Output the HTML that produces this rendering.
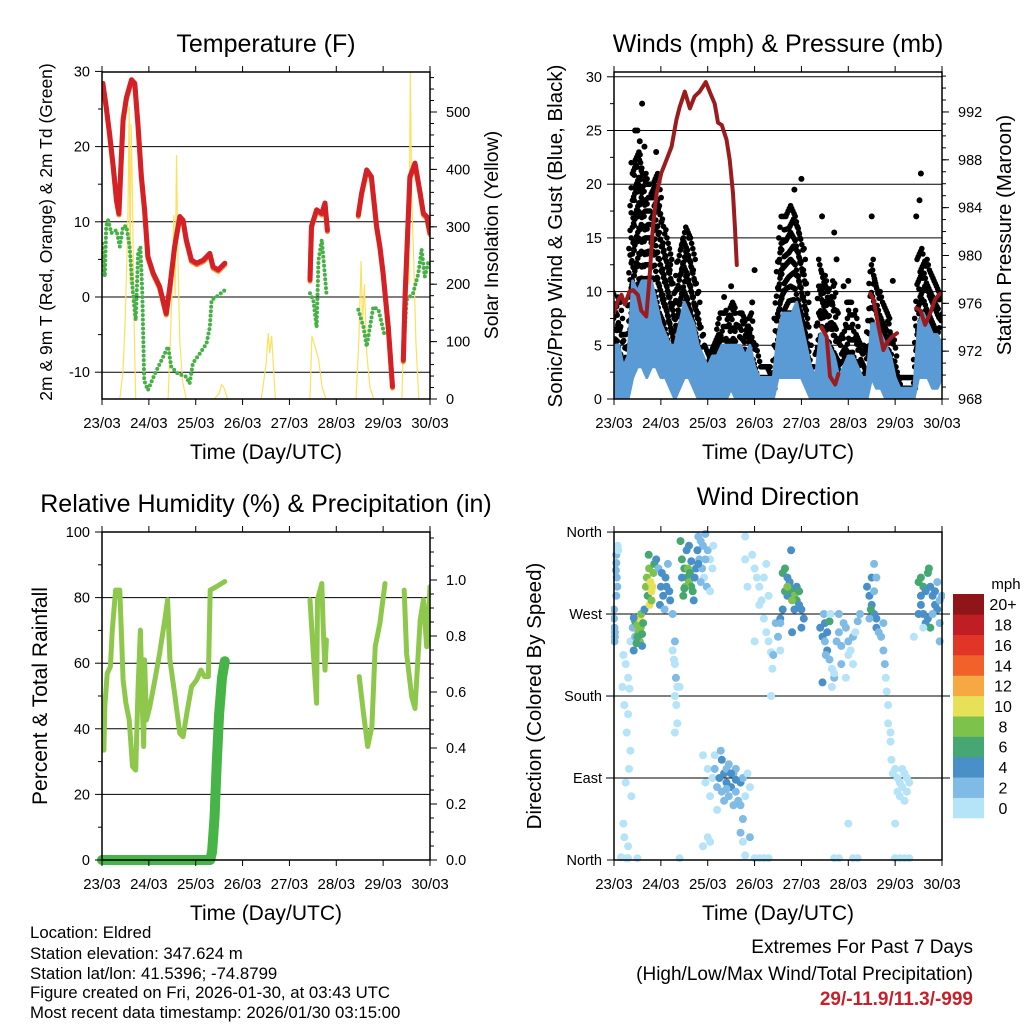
<!DOCTYPE html>
<html><head><meta charset="utf-8"><style>
html,body{margin:0;padding:0;background:#fff}
svg text{font-family:"Liberation Sans",Arial,sans-serif;fill:#000}
</style></head><body>
<svg id="c" width="1024" height="1024" viewBox="0 0 1024 1024" xmlns="http://www.w3.org/2000/svg">
<defs>
<clipPath id="cp1"><rect x="102" y="72" width="328" height="327"/></clipPath>
<clipPath id="cp2"><rect x="614" y="72" width="328" height="327"/></clipPath>
<clipPath id="cp3"><rect x="102" y="532" width="328" height="328"/></clipPath>
<clipPath id="cp4"><rect x="611" y="529" width="334" height="334"/></clipPath>
</defs>
<g id="g1"></g>
<g id="g2"></g>
<g id="g3"></g>
<g id="g4"></g>
<g id="txt">
<text x="30" y="938" font-size="16.8">Location: Eldred</text>
<text x="30" y="959" font-size="16.8">Station elevation: 347.624 m</text>
<text x="30" y="979" font-size="16.8">Station lat/lon: 41.5396; -74.8799</text>
<text x="30" y="998" font-size="16.8">Figure created on Fri, 2026-01-30, at 03:43 UTC</text>
<text x="30" y="1018" font-size="16.8">Most recent data timestamp: 2026/01/30 03:15:00</text>
<text x="973" y="953" font-size="19" text-anchor="end">Extremes For Past 7 Days</text>
<text x="973" y="980" font-size="19" text-anchor="end">(High/Low/Max Wind/Total Precipitation)</text>
<text x="973" y="1005" font-size="19" font-weight="bold" text-anchor="end" style="fill:#c8202a">29/-11.9/11.3/-999</text>
</g>
</svg>
<script>
// ---------- DATA ----------
const dayLabels=["23/03","24/03","25/03","26/03","27/03","28/03","29/03","30/03"];
const tempSegs=[
[[0,27.1],[0.02,28.4],[0.09,25.3],[0.16,21.8],[0.24,17.4],[0.31,12.9],[0.36,11.1],[0.41,18.2],[0.45,23.6],[0.52,26.5],[0.63,28.9],[0.70,28.4],[0.77,22.7],[0.84,16.0],[0.91,11.6],[0.98,5.4],[1.09,3.2],[1.23,1.4],[1.37,-2.2],[1.45,1.4],[1.55,6.7],[1.66,10.7],[1.73,10.2],[1.80,7.6],[1.91,4.9],[2.02,4.5],[2.16,4.9],[2.30,5.8],[2.37,4.0],[2.48,3.6],[2.62,4.5]],
[[4.44,2.3],[4.47,9.4],[4.58,11.6],[4.69,11.1],[4.76,12.5],[4.81,8.9]],
[[5.47,10.9],[5.54,13.8],[5.65,16.9],[5.75,16.0],[5.86,9.4],[5.93,6.7],[6.00,3.2],[6.11,-4.0],[6.20,-11.9]],
[[6.43,-8.4],[6.47,0.5],[6.57,16.0],[6.68,17.8],[6.79,13.8],[6.86,11.1],[6.93,10.7],[7.0,8.5]]];
const dewSegs=[
[[0,7.1],[0.06,2.7],[0.09,9.4],[0.13,10.2],[0.2,8.5],[0.31,8.9],[0.38,6.7],[0.45,9.4],[0.52,9.4],[0.59,6.7],[0.66,0.5],[0.72,-3.1],[0.77,5.8],[0.82,6.7],[0.86,0.5],[0.90,-11.1],[0.98,-12.4],[1.13,-10.2],[1.27,-8.4],[1.41,-6.6],[1.48,-9.3],[1.62,-10.2],[1.80,-10.6],[1.87,-11.5],[1.94,-8.8],[2.09,-7.5],[2.23,-6.2],[2.30,-4.0],[2.34,-0.4],[2.44,0],[2.62,0.9]],
[[4.44,0.5],[4.51,-0.4],[4.58,-4.0],[4.62,4.9],[4.69,7.6],[4.76,2.7],[4.79,0.5]],
[[5.47,-1.7],[5.58,-4.0],[5.65,-6.6],[5.79,-1.3],[5.90,-1.7],[6.04,-5.3]],
[[6.43,-7.5],[6.50,-0.4],[6.64,0.5],[6.75,3.1],[6.82,6.3],[6.89,2.7],[6.96,4.5],[7.0,4.0]]];
const solarSegs=[
[[0.38,0],[0.45,50],[0.5,150],[0.55,300],[0.58,510],[0.6,200],[0.62,480],[0.65,350],[0.68,150],[0.72,0]],
[[1.41,0],[1.45,80],[1.5,200],[1.53,320],[1.56,180],[1.59,425],[1.62,250],[1.66,100],[1.72,30],[1.80,0]],
[[2.4,0],[2.5,10],[2.55,25],[2.6,20],[2.68,0]],
[[3.4,0],[3.5,60],[3.55,115],[3.58,80],[3.62,110],[3.7,0]],
[[4.44,0],[4.48,110],[4.55,90],[4.62,70],[4.7,20],[4.78,0]],
[[5.42,0],[5.48,100],[5.53,240],[5.56,130],[5.6,200],[5.65,80],[5.72,20],[5.8,0]],
[[6.40,0],[6.45,150],[6.5,300],[6.55,200],[6.58,570],[6.61,350],[6.65,250],[6.7,100],[6.76,0]]];
const windTimes=[0,0.1,0.2,0.3,0.4,0.5,0.6,0.7,0.8,0.9,1.0,1.1,1.2,1.3,1.4,1.5,1.6,1.7,1.8,1.9,2.0,2.1,2.2,2.3,2.4,2.5,2.6,2.7,2.8,2.9,3.0,3.1,3.2,3.3,3.4,3.5,3.6,3.7,3.8,3.9,4.0,4.1,4.2,4.3,4.4,4.5,4.6,4.7,4.8,4.9,5.0,5.1,5.2,5.3,5.4,5.5,5.6,5.7,5.8,5.9,6.0,6.1,6.2,6.3,6.4,6.5,6.6,6.7,6.8,6.9,7.0];
const windLo=[0,0,0,0,2,3,3,2,3,3,2,2,1,0,1,2,2,1,0,0,0,0,0,0,0,1,0,0,0,0,0,0,0,0,0,2,2,2,2,2,2,1,0,0,0,0,0,0,0,0,0,0,0,0,0,2,1,1,0,0,0,0,0,0,0,2,2,2,1,1,2];
const windHi=[5,5,3,4,11,10,11,11,11,9,7,6,5,5,7,9,8,7,5,4,3,4,4,5,5,5,5,5,4,5,3,2,2,2,2,6,8,8,8,9,7,5,3,2,6,6,5,4,2,3,4,4,3,2,2,7,7,6,5,4,2,1,1,1,1,7,8,7,6,6,5];
const gustLo=[3,3,1,2,8,10,10,10,10,10,8,7,5,3,6,8,7,5,3,2,1,2,2,3,3,3,3,2,2,2,1,0,0,0,0,5,7,8,8,8,6,4,1,1,3,3,3,2,1,1,2,2,1,1,0,5,4,3,2,2,1,0,0,0,0,6,7,6,5,4,4];
const gustHi=[10,9,6,6,22,23,22,20,20,21,18,15,13,9,14,16,15,13,9,5,4,5,6,8,8,9,8,8,7,8,5,3,3,3,2,13,17,17,18,17,15,11,3,3,13,11,10,11,5,6,9,9,6,5,4,13,11,9,8,7,4,2,2,2,2,13,14,12,11,10,9];
const gustOutliers=[[0.0,8],[0.6,27.5],[0.55,24],[0.5,25],[0.45,25],[0.65,23.5],[0.9,23],[1.2,12.5],[1.55,13],[1.6,15],[2.95,9],[3.0,12],[2.5,10.5],[3.45,2],[4.0,20.5],[3.85,19.5],[4.44,17],[4.7,15.5],[4.9,10.5],[5.5,17],[5.95,11],[6.45,17],[6.52,18.5],[6.55,21],[2.55,6.5],[2.35,9.5],[5.0,11],[4.75,13]];
const presSegs=[
[[0,975.2],[0.09,976.3],[0.16,976.7],[0.23,975.9],[0.33,977.0],[0.41,977.1],[0.51,976.7],[0.58,975.4],[0.69,974.9],[0.76,978.2],[0.83,982.4],[0.91,985.2],[1.01,986.9],[1.12,988.0],[1.23,989.1],[1.33,991.3],[1.40,992.4],[1.51,993.7],[1.62,992.3],[1.72,993.3],[1.83,993.7],[1.96,994.5],[2.05,993.6],[2.15,992.7],[2.22,991.1],[2.30,990.9],[2.40,989.7],[2.47,988.0],[2.54,985.2],[2.58,982.4],[2.62,979.2]],
[[4.43,974.0],[4.54,973.2],[4.61,969.9],[4.72,969.2],[4.79,970.1]],
[[5.47,976.8],[5.54,976.3],[5.65,974.0],[5.75,972.1],[5.82,972.7],[5.93,973.2],[6.04,973.5]],
[[6.45,975.6],[6.54,975.4],[6.64,974.2],[6.75,975.2],[6.86,976.4],[6.96,976.8]]];
const rhSegs=[
[[0,42.7],[0.04,33.5],[0.06,46.7],[0.11,56.9],[0.18,59],[0.22,70.1],[0.29,82.3],[0.38,82.3],[0.45,54.9],[0.51,47.8],[0.58,42.7],[0.65,28.5],[0.72,27.4],[0.77,52.8],[0.82,70.1],[0.86,46.7],[0.89,34.6],[0.91,61],[0.95,42.7],[1.02,46.7],[1.13,54.9],[1.23,63],[1.34,73.2],[1.40,79.3],[1.45,61],[1.55,50.8],[1.66,38.6],[1.73,37.6],[1.81,44.7],[1.91,52.8],[2.02,54.9],[2.11,57.9],[2.19,55.9],[2.27,55.9],[2.31,82.3],[2.44,83.3],[2.62,84.9]],
[[4.44,79.3],[4.5,65],[4.58,47.8],[4.6,79.3],[4.69,84.3],[4.72,71.1],[4.76,57.9],[4.79,67.1]],
[[5.49,55.9],[5.58,44.7],[5.67,34.6],[5.76,40.7],[5.83,65],[5.93,72.2],[6.04,84.3]],
[[6.45,82.3],[6.50,63],[6.61,49.8],[6.68,46.2],[6.79,73.2],[6.86,79.3],[6.93,65],[7.0,83.3]]];
const precip=[[0,0],[2.31,0],[2.35,0.03],[2.40,0.15],[2.45,0.35],[2.50,0.52],[2.56,0.65],[2.62,0.71]];
const dirPts=[[0.0,265,3],[0.01,255,3],[0.02,250,3],[0.0,275,3],[0.02,245,2],[0.01,240,2],[0.04,318,3],[0.05,326,3],[0.06,310,3],[0.05,335,3],[0.07,300,2],[0.08,345,1],[0.09,340,1],[0.05,290,3],
[0.2,225,1],[0.25,215,1],[0.3,200,1],[0.18,190,1],[0.35,240,1],[0.33,188,0],[0.22,170,1],[0.3,160,1],[0.27,140,1],[0.35,120,1],[0.32,100,1],[0.25,85,1],[0.37,70,1],[0.2,40,1],[0.22,25,1],[0.3,15,1],[0.26,2,1],[0.15,3,1],[0.4,255,2],[0.45,245,3],[0.5,260,4],[0.42,230,4],
[0.45,262,7],[0.5,258,8],[0.52,250,9],[0.55,265,10],[0.57,255,8],[0.6,248,7],[0.55,240,9],[0.5,245,6],[0.6,235,4],[0.48,238,6],[0.58,270,8],[0.62,260,6],[0.65,275,5],[0.42,266,4],
[0.68,300,8],[0.7,310,9],[0.72,290,7],[0.75,320,8],[0.78,305,10],[0.8,295,11],[0.82,300,10],[0.84,315,9],[0.86,325,7],[0.76,280,10],[0.8,285,8],[0.74,335,6],[0.9,330,4],[0.95,320,3],[1.0,300,4],[1.05,290,4],[1.1,310,4],[1.15,325,3],[0.98,280,4],[1.08,275,3],[1.12,300,5],[1.2,285,4],[1.25,270,3],[1.02,315,5],[1.18,295,4],
[1.42,350,6],[1.45,330,7],[1.5,320,6],[1.55,310,7],[1.6,305,8],[1.65,300,6],[1.48,290,6],[1.52,300,8],[1.58,320,8],[1.62,315,6],[1.68,295,6],[1.7,285,5],[1.55,340,4],[1.6,345,4],[1.65,328,5],[1.72,310,4],[1.75,320,4],[1.45,310,5],[1.5,298,7],
[1.8,355,3],[1.85,350,2],[1.9,345,3],[1.95,358,2],[2.0,340,2],[2.05,330,1],[1.82,330,3],[1.88,320,2],[1.92,310,1],[1.98,300,2],[2.05,295,1],[1.85,305,3],[1.78,340,4],[2.1,320,1],[2.12,345,1],[1.8,325,4],[1.95,330,3],
[1.25,230,1],[1.3,215,1],[1.32,200,2],[1.35,190,1],[1.3,180,1],[1.33,170,1],[1.35,150,1],[1.3,140,1],[1.4,190,1],[1.28,220,1],[1.3,240,2],
[1.9,115,1],[1.95,85,1],[2.0,100,1],[2.05,70,1],[2.1,90,1],[2.15,100,2],[2.2,80,3],[2.25,90,4],[2.3,75,3],[2.35,95,4],[2.4,85,4],[2.45,70,3],[2.5,80,4],[2.55,95,3],[2.6,75,3],[2.65,65,3],[2.7,85,4],[2.75,90,3],[2.3,110,4],[2.35,65,2],[2.4,100,2],[2.45,105,3],[2.55,60,2],[2.6,100,3],[2.7,60,2],[2.8,70,1],[2.85,95,1],[2.9,80,1],[2.75,45,3],[2.7,30,3],[2.2,55,1],[2.15,115,1],[2.28,120,2],[2.5,95,4],[2.6,88,4],[2.4,78,3],[2.0,25,1],[1.9,15,1],[2.05,20,1],[2.75,20,1],[2.8,5,1],
[2.8,355,1],[2.8,330,1],[2.95,335,1],[3.0,320,1],[3.05,310,1],[3.1,300,1],[3.15,285,1],[3.2,265,1],[3.25,250,1],[3.3,240,1],[3.35,228,1],[3.38,210,1],[3.4,225,2],[3.45,260,2],[3.5,245,2],[3.55,230,1],[3.0,240,1],[2.85,300,1],[3.2,310,1],[3.25,325,1],[3.35,180,1],[3.3,290,1],[3.1,280,1],
[3.6,315,6],[3.65,320,6],[3.7,310,5],[3.75,300,6],[3.8,295,7],[3.85,290,8],[3.9,285,6],[3.95,280,5],[4.0,275,5],[3.7,290,4],[3.65,295,6],[3.75,305,4],[3.85,275,4],[3.9,300,5],[3.95,295,6],[4.05,265,4],[3.6,275,4],[3.55,265,5],[3.8,285,9],[3.7,300,8],[3.55,260,3],[3.8,250,4],[4.0,255,4],[3.78,340,4],
[4.4,255,4],[4.45,245,4],[4.5,240,3],[4.55,230,4],[4.6,220,2],[4.65,210,1],[4.7,200,3],[4.75,240,2],[4.8,250,2],[4.85,235,2],[4.9,260,2],[4.95,255,2],[5.0,240,2],[5.05,230,1],[5.1,245,2],[5.15,250,1],[5.2,262,2],[5.25,270,2],[4.5,260,4],[4.55,250,5],[4.6,262,6],[4.48,270,3],[4.52,225,3],[4.45,195,4],[4.65,190,1],[4.7,205,1],[4.85,215,2],[4.95,200,1],[5.0,225,1],[5.1,215,1],[4.62,270,1],[4.8,270,2],
[5.4,300,4],[5.45,290,5],[5.5,280,4],[5.55,270,4],[5.6,265,4],[5.45,265,3],[5.5,310,4],[5.55,325,3],[5.6,255,4],[5.65,250,3],[5.7,245,3],[5.48,275,6],[5.55,295,3],[5.6,310,2],[5.75,230,2],[5.78,215,2],[5.8,200,1],[5.82,185,1],[5.85,170,1],[5.85,150,1],[5.9,130,1],[5.92,110,1],[5.95,95,1],[5.9,140,1],[5.75,260,3],
[6.0,100,1],[6.05,90,1],[6.1,85,1],[6.15,80,1],[6.2,95,1],[6.25,75,1],[6.1,70,1],[6.2,65,1],[6.15,100,1],[6.05,75,1],[6.25,90,1],[6.3,85,1],[6.0,40,1],
[3.0,2,1],[3.1,2,1],[3.2,2,1],[3.3,2,0],[4.7,2,1],[4.8,2,1],[5.1,2,1],[5.2,2,1],[6.0,2,1],[6.1,2,0],[6.2,2,0],[6.3,2,0],[1.4,2,1],[0.3,2,1],[0.5,2,1],[5.0,40,1],[2.9,25,2],
[6.5,305,6],[6.55,310,6],[6.6,300,7],[6.65,295,5],[6.7,315,6],[6.75,300,4],[6.8,290,4],[6.85,280,4],[6.9,275,4],[6.95,285,3],[7.0,290,3],[6.55,280,4],[6.6,270,4],[6.65,260,4],[6.7,265,5],[6.75,255,6],[6.8,270,3],[6.85,295,4],[6.9,305,3],[6.95,260,3],[6.5,270,4],[6.55,290,5],[6.72,320,7],[6.4,245,1],[6.6,255,1],[6.95,240,2]];
const cbLabels=["0","2","4","6","8","10","12","14","16","18","20+"];
const cbColors=["#b5e3f8","#80bbe5","#4a90c8","#47a772","#7dc24a","#e6e158","#f6a843","#f0622a","#e03527","#be1e24","#8f1518"];

// ---------- DRAWING ----------
const NS="http://www.w3.org/2000/svg";
function mk(parent,tag,attrs,text){const e=document.createElementNS(NS,tag);for(const k in attrs)e.setAttribute(k,attrs[k]);if(text!==undefined)e.textContent=text;parent.appendChild(e);return e;}
const X0L=102,X1L=430,X0R=614,X1R=942;
function xs(x0,x1){return t=>x0+t*(x1-x0)/7;}
const xL=xs(X0L,X1L),xR=xs(X0R,X1R);
function path(pts,fx,fy){return pts.map((p,i)=>(i?"L":"M")+fx(p[0]).toFixed(1)+","+fy(p[1]).toFixed(1)).join("");}

function frame(g,x0,x1,y0,y1,name){
  const r=mk(g,"rect",{x:x0,y:y0,width:x1-x0,height:y1-y0,fill:"none",stroke:"#000","stroke-width":1.5});
  
  
  const f=xs(x0,x1);
  dayLabels.forEach((d,i)=>{
    const x=f(i);
    mk(g,"line",{x1:x,x2:x,y1:y0,y2:y0-6,stroke:"#000"});
    mk(g,"line",{x1:x,x2:x,y1:y1,y2:y1+6,stroke:"#000"});
    const t=mk(g,"text",{x:x,y:y1+29,"font-size":15,"text-anchor":"middle"},d);
    
    
  });
  const xt=mk(g,"text",{x:(x0+x1)/2,y:y1+60,"font-size":21,"text-anchor":"middle"},"Time (Day/UTC)");
  
  
}
function grid(g,x0,x1,y){mk(g,"line",{x1:x0,x2:x1,y1:y,y2:y,stroke:"#000","stroke-width":1});}
function leftTicks(g,x0,vals,fy,minor,labels){
  minor.forEach(v=>mk(g,"line",{x1:x0,x2:x0-4,y1:fy(v),y2:fy(v),stroke:"#000"}));
  vals.forEach((v,i)=>{mk(g,"line",{x1:x0,x2:x0-7,y1:fy(v),y2:fy(v),stroke:"#000"});
    const t=mk(g,"text",{x:x0-12,y:fy(v)+5,"font-size":14.5,"text-anchor":"end"},labels?labels[i]:v);
    
    });
}
function rightTicks(g,x1,vals,fy,minor,labels){
  minor.forEach(v=>mk(g,"line",{x1:x1,x2:x1+4,y1:fy(v),y2:fy(v),stroke:"#000"}));
  vals.forEach((v,i)=>{mk(g,"line",{x1:x1,x2:x1+7,y1:fy(v),y2:fy(v),stroke:"#000"});
    const t=mk(g,"text",{x:x1+16,y:fy(v)+5,"font-size":14.5},labels?labels[i]:v);
    
    });
}
function title(g,x,y,s,name){const t=mk(g,"text",{x:x,y:y,"font-size":25,"text-anchor":"middle"},s);}
function vtitle(g,x,y,s,name,fs){const t=mk(g,"text",{x:x,y:y,"font-size":fs,"text-anchor":"middle",transform:`rotate(-90 ${x} ${y})`},s);}
function range(a,b,s){const r=[];for(let v=a;v<=b+1e-9;v+=s)r.push(+v.toFixed(4));return r;}

// Panel 1
{const g=document.getElementById("g1");
 const yT=v=>297-v*7.52, yS=v=>399-v*0.574;
 [20,10,0,-10].forEach(v=>grid(g,X0L,X1L,yT(v)));
 const c=mk(g,"g",{"clip-path":"url(#cp1)"});
 solarSegs.forEach(s=>{const p=mk(c,"path",{d:path(s,xL,yS),fill:"none",stroke:"#fde05e","stroke-width":1.2});
   });
 dewSegs.forEach(s=>{const p=mk(c,"path",{d:path(s,xL,yT),fill:"none",stroke:"#47b047","stroke-width":4,"stroke-linecap":"round","stroke-dasharray":"0 4.5"});
   });
 tempSegs.forEach(s=>{const p=mk(c,"path",{d:path(s,xL,v=>yT(v)+1.5),fill:"none",stroke:"#f58a32","stroke-width":5,"stroke-linejoin":"round","stroke-linecap":"round"});
   });
 tempSegs.forEach(s=>{const p=mk(c,"path",{d:path(s,xL,yT),fill:"none",stroke:"#d42027","stroke-width":5,"stroke-linejoin":"round","stroke-linecap":"round"});
   });
 frame(g,X0L,X1L,72,399,"temperature");
 leftTicks(g,X0L,[30,20,10,0,-10],yT,[25,15,5,-5]);
 rightTicks(g,X1L,[0,100,200,300,400,500],yS,range(20,560,20));
 title(g,266,52,"Temperature (F)","temperature-title");
 vtitle(g,52,232,"2m & 9m T (Red, Orange) & 2m Td (Green)","temperature-y-title",17.5);
 vtitle(g,498,235,"Solar Insolation (Yellow)","solar-y-title",19.5);
}
// Panel 2
{const g=document.getElementById("g2");
 const yW=v=>399-v*10.74, yP=p=>399-(p-968)*11.96;
 [5,10,15,20,25,30].forEach(v=>grid(g,X0R,X1R,yW(v)));
 const c=mk(g,"g",{"clip-path":"url(#cp2)"});
 const gg=mk(c,"g",{fill:"#000"});
 
 for(let i=0;i<windTimes.length-1;i++){
   for(let s=0;s<4;s++){const f=s/4;
     const t=windTimes[i]+f*(windTimes[i+1]-windTimes[i]);
     const lo=gustLo[i]+f*(gustLo[i+1]-gustLo[i]), hi=gustHi[i]+f*(gustHi[i+1]-gustHi[i]);
     const n=Math.max(2,Math.round((hi-lo)/1.2));
     for(let k=0;k<=n;k++){const v=lo+(hi-lo)*k/n;
       const d=mk(gg,"circle",{cx:(xR(t)+((k%2)?1.5:-1.5)).toFixed(1),cy:yW(v).toFixed(1),r:2.8});
       
       }
   }
 }
 gustOutliers.forEach(p=>{const d=mk(c,"circle",{cx:xR(p[0]),cy:yW(p[1]),r:3,fill:"#000"});});
 const band=(lo,hi)=>{const up=windTimes.map((t,i)=>[t,hi[i]]),dn=windTimes.map((t,i)=>[t,lo[i]]).reverse();return path(up.concat(dn),xR,yW)+"Z";};
 const e=mk(c,"path",{d:band(windLo,windHi),fill:"#5b9bd5",stroke:"#5b9bd5","stroke-width":3,"stroke-linejoin":"round"});
 
 presSegs.forEach(s=>{const p=mk(c,"path",{d:path(s,xR,yP),fill:"none",stroke:"#9b1c1f","stroke-width":4,"stroke-linejoin":"round","stroke-linecap":"round"});
   });
 frame(g,X0R,X1R,72,399,"winds");
 leftTicks(g,X0R,[0,5,10,15,20,25,30],yW,range(2.5,27.5,5));
 rightTicks(g,X1R,[968,972,976,980,984,988,992],yP,range(969,995,1));
 title(g,778,52,"Winds (mph) & Pressure (mb)","winds-title");
 vtitle(g,562,236,"Sonic/Prop Wind & Gust (Blue, Black)","winds-y-title",20.5);
 vtitle(g,1011,235,"Station Pressure (Maroon)","pressure-y-title",20.5);
}
// Panel 3
{const g=document.getElementById("g3");
 const yR=v=>860-v*3.28, yPr=v=>860-v*280;
 [20,40,60,80].forEach(v=>grid(g,X0L,X1L,yR(v)));
 const c=mk(g,"g",{"clip-path":"url(#cp3)"});
 rhSegs.forEach(s=>{const p=mk(c,"path",{d:path(s,xL,yR),fill:"none",stroke:"#8dc84d","stroke-width":5,"stroke-linejoin":"round","stroke-linecap":"round"});
   });
 const p=mk(g,"path",{d:path(precip,xL,yPr),fill:"none",stroke:"#46b446","stroke-width":10,"stroke-linejoin":"round","stroke-linecap":"round"});
 
 frame(g,X0L,X1L,532,860,"humidity");
 leftTicks(g,X0L,[0,20,40,60,80,100],yR,range(10,90,20));
 rightTicks(g,X1L,[0,0.2,0.4,0.6,0.8,1.0],yPr,range(0.05,1.15,0.05),["0.0","0.2","0.4","0.6","0.8","1.0"]);
 title(g,266,512,"Relative Humidity (%) & Precipitation (in)","humidity-title");
 vtitle(g,47,696,"Percent & Total Rainfall","humidity-y-title",21);
}
// Panel 4
{const g=document.getElementById("g4");
 const yD=d=>860-d*0.911;
 [270,180,90].forEach(v=>grid(g,X0R-8,X1R+8,yD(v)));
 const c=mk(g,"g",{"clip-path":"url(#cp4)"});
 dirPts.forEach(p=>{const b=Math.min(10,Math.floor(p[2]/2));
   const d=mk(c,"circle",{cx:xR(p[0]).toFixed(1),cy:yD(p[1]).toFixed(1),r:4,fill:cbColors[b]});
   });
 frame(g,X0R,X1R,532,860,"direction");
 leftTicks(g,X0R,[0,90,180,270,360],yD,[],["North","East","South","West","North"]);
 title(g,778,505,"Wind Direction","direction-title");
 vtitle(g,541,696,"Direction (Colored By Speed)","direction-y-title",20.5);
 const cb=mk(g,"g",{});
 
 const top=594,h=224/11;
 cbColors.forEach((col,i)=>{const y=top+(10-i)*h;
   const r=mk(cb,"rect",{x:953,y:y,width:31,height:h+0.3,fill:col});
   
   const t=mk(cb,"text",{x:1003,y:y+h/2+6,"font-size":16,"text-anchor":"middle"},cbLabels[i]);
   });
 const u=mk(cb,"text",{x:1006,y:589,"font-size":15,"text-anchor":"middle"},"mph");
 
}
</script>
</body></html>
